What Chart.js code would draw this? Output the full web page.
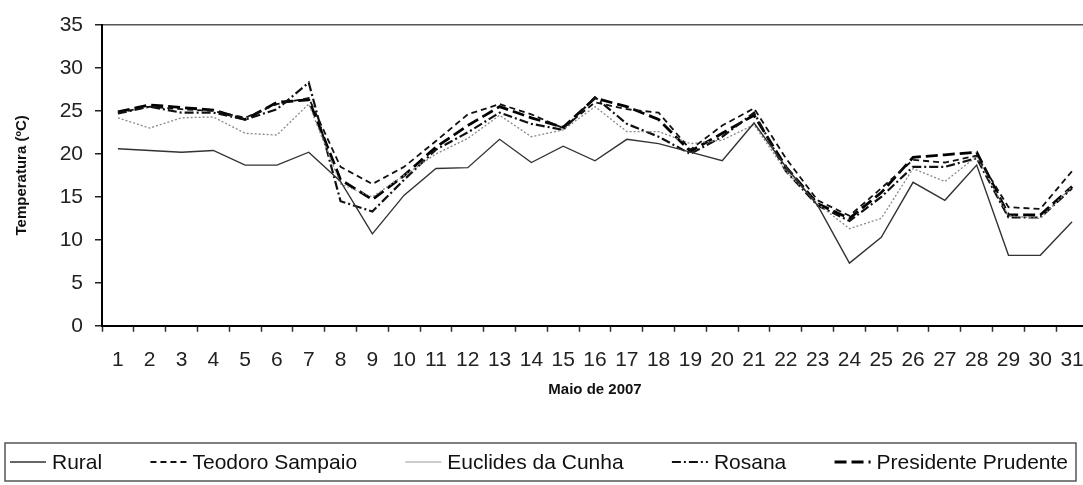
<!DOCTYPE html>
<html>
<head>
<meta charset="utf-8">
<script src="https://cdn.jsdelivr.net/npm/chart.js@4"></script>
<style>
  html, body { margin: 0; padding: 0; background: #fff; overflow: hidden; }
  #wrap { width: 1100px; height: 485px; }
</style>
</head>
<body>
<div id="wrap"><canvas id="chart" width="1100" height="485"></canvas></div>
<script>
const days = ["1","2","3","4","5","6","7","8","9","10","11","12","13","14","15","16",
  "17","18","19","20","21","22","23","24","25","26","27","28","29","30","31"];

const rural = [20.6, 20.4, 20.2, 20.4, 18.7, 18.7, 20.2, 16.8, 10.7, 15.2, 18.3, 18.4, 21.7, 19.0, 20.9, 19.2,
  21.7, 21.2, 20.2, 19.2, 23.6, 18.5, 14.0, 7.3, 10.3, 16.7, 14.6, 18.7, 8.2, 8.2, 12.1];
const teodoroSampaio = [24.8, 25.5, 25.2, 25.0, 24.2, 25.8, 26.5, 18.5, 16.5, 18.5, 21.5, 24.6, 25.8, 24.6, 23.0, 26.0,
  25.2, 24.8, 20.5, 23.3, 25.3, 19.5, 14.6, 12.8, 16.0, 19.3, 19.0, 19.8, 13.8, 13.6, 18.0];
const euclidesDaCunha = [24.2, 23.0, 24.2, 24.3, 22.4, 22.2, 25.8, 16.5, 15.0, 17.5, 20.0, 21.8, 24.5, 22.0, 22.8, 25.5,
  22.6, 22.6, 21.2, 21.6, 23.4, 18.0, 14.2, 11.3, 12.5, 18.3, 16.8, 19.7, 12.8, 12.5, 16.2];
const rosana = [24.7, 25.5, 24.8, 24.8, 24.0, 25.2, 28.3, 14.5, 13.3, 17.0, 20.5, 22.5, 24.8, 23.5, 22.8, 26.6,
  23.5, 22.0, 20.0, 22.0, 24.8, 18.0, 14.0, 12.2, 15.0, 18.5, 18.5, 19.5, 12.6, 12.6, 16.0];
const presidentePrudente = [24.9, 25.7, 25.4, 25.1, 24.0, 26.0, 26.3, 17.0, 14.7, 17.5, 20.8, 23.3, 25.5, 24.2, 23.1, 26.5,
  25.5, 24.0, 20.3, 22.4, 24.5, 18.5, 14.2, 12.5, 15.5, 19.6, 19.9, 20.2, 12.9, 12.9, 16.2];

const yTicks = [0, 5, 10, 15, 20, 25, 30, 35];

const FONT = "'Liberation Sans', Arial, sans-serif";

// legenda desenhada numa linha só, com moldura (a do Chart.js quebra a linha)
const boxLegend = {
  id: "boxLegend",
  afterDraw(chart, args, opts) {
    const ctx = chart.ctx;
    const sets = chart.data.datasets;
    ctx.save();
    ctx.font = opts.size + "px " + FONT;
    const widths = sets.map(d => ctx.measureText(d.label).width);
    const used = widths.reduce((a, w) => a + w + opts.sample + opts.gap, 0);
    const space = (opts.right - opts.left - used) / (sets.length - 1);
    const cy = opts.cy;

    ctx.strokeStyle = "#555";
    ctx.lineWidth = 1.5;
    ctx.strokeRect(opts.left - 5, cy - 19, opts.right - opts.left + 13, 38);

    let x = opts.left;
    sets.forEach((d, i) => {
      ctx.beginPath();
      ctx.setLineDash(d.legendDash || d.borderDash || []);
      ctx.strokeStyle = d.legendColor || d.borderColor;
      ctx.lineWidth = d.borderWidth;
      ctx.moveTo(x, cy);
      ctx.lineTo(x + opts.sample, cy);
      ctx.stroke();
      ctx.setLineDash([]);
      x += opts.sample + opts.gap;
      ctx.fillStyle = "#111";
      ctx.textBaseline = "middle";
      ctx.textAlign = "left";
      ctx.fillText(d.label, x, cy + 1);
      x += widths[i] + space;
    });
    ctx.restore();
  }
};

const ctx = document.getElementById("chart").getContext("2d");
new Chart(ctx, {
  type: "line",
  data: {
    labels: days,
    datasets: [
      { label: "Rural", data: rural, borderColor: "#333", borderWidth: 1.4, borderDash: [] },
      { label: "Teodoro Sampaio", data: teodoroSampaio, borderColor: "#111", borderWidth: 1.8, borderDash: [6, 4] },
      { label: "Euclides da Cunha", data: euclidesDaCunha, borderColor: "#888", borderWidth: 1.3, borderDash: [2, 2],
        legendDash: [], legendColor: "#bbb" },
      { label: "Rosana", data: rosana, borderColor: "#111", borderWidth: 2.2, borderDash: [9, 3, 2, 3] },
      { label: "Presidente Prudente", data: presidentePrudente, borderColor: "#000", borderWidth: 2.8, borderDash: [12, 5] },
    ].map(d => Object.assign(d, { fill: false, tension: 0, pointRadius: 0, pointHoverRadius: 0 })),
  },
  options: {
    responsive: false,
    animation: false,
    layout: { padding: { top: 25, right: 12, bottom: 73, left: 0 } },
    plugins: {
      tooltip: { enabled: false },
      legend: { display: false },
      boxLegend: { size: 21, sample: 36, gap: 6, left: 10, right: 1068, cy: 462 },
    },
    scales: {
      x: {
        offset: true,
        grid: { offset: true, drawOnChartArea: false, tickLength: 6, tickColor: "#333", tickWidth: 1.5 },
        border: { color: "#000", width: 2 },
        ticks: { color: "#222", padding: 16, maxRotation: 0, autoSkip: false, font: { family: FONT, size: 21 } },
        title: { display: true, text: "Maio de 2007", color: "#111",
          padding: { top: -8, bottom: 13 },
          font: { family: FONT, size: 15, weight: "bold" } },
      },
      y: {
        min: 0,
        max: 35,
        afterBuildTicks: axis => { axis.ticks = yTicks.map(v => ({ value: v })); },
        afterFit: axis => { axis.width = 102; },
        grid: {
          tickLength: 7,
          tickColor: "#222",
          tickWidth: 1.5,
          lineWidth: 1.5,
          color: c => (c.tick && c.tick.value === 35 ? "#555" : "rgba(0,0,0,0)"),
        },
        border: { color: "#000", width: 2 },
        ticks: { color: "#222", padding: 12, font: { family: FONT, size: 21 } },
        title: { display: true, text: "Temperatura (ºC)", color: "#111",
          padding: { top: 13, bottom: 0 },
          font: { family: FONT, size: 15, weight: "bold" } },
      },
    },
  },
  plugins: [boxLegend],
});
</script>
</body>
</html>
